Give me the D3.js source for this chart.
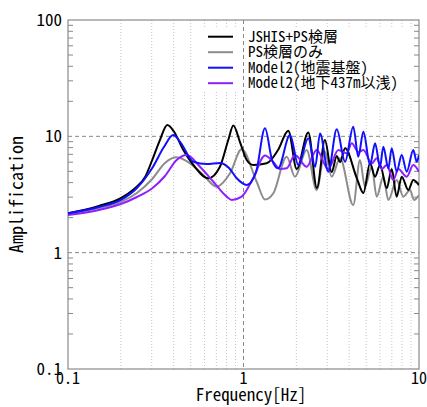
<!DOCTYPE html>
<html>
<head>
<meta charset="utf-8">
<script src="https://cdn.jsdelivr.net/npm/d3@7"></script>
<style>
  body { margin: 0; background: #fff; }
  svg text { font-family: "Noto Sans Mono CJK JP", "Liberation Mono", "Noto Sans CJK JP", monospace; fill: #000; }
</style>
</head>
<body>
<div id="plot"></div>
<script>
// [frequency Hz, amplification]
const jshisPs = [
  [0.1, 2.18], [0.15, 2.52], [0.2, 2.95], [0.238, 3.53], [0.275, 4.47], [0.302, 6.26],
  [0.334, 9.29], [0.368, 12.5], [0.402, 10.95], [0.454, 7.62], [0.518, 5.67], [0.63, 4.36],
  [0.734, 5.48], [0.819, 9.29], [0.875, 12.4], [0.955, 8.93], [1.043, 6.26], [1.137, 5.67],
  [1.356, 5.86], [1.573, 7.62], [1.8, 11.17], [2.01, 5.24], [2.34, 10.8], [2.62, 3.6],
  [2.91, 9.29], [3.18, 4.93], [3.4, 6.77], [3.55, 6.01], [3.79, 7.89], [4.42, 4.38],
  [4.82, 3.26], [5.26, 5.86], [5.62, 4.5], [6.0, 5.67], [6.55, 3.58], [6.99, 5.24],
  [7.46, 3.03], [7.97, 4.5], [8.69, 3.46], [9.28, 4.21], [10, 3.8]
];
const psOnly = [
  [0.1, 2.15], [0.15, 2.42], [0.2, 2.73], [0.247, 3.26], [0.302, 4.3], [0.357, 5.9],
  [0.416, 6.6], [0.496, 5.86], [0.59, 4.65], [0.704, 3.69], [0.838, 4.81], [0.976, 7.73],
  [1.189, 4.07], [1.326, 2.86], [1.479, 3.24], [1.763, 6.68], [1.965, 4.5], [2.29, 7.62],
  [2.61, 3.46], [2.91, 7.38], [3.18, 4.5], [3.55, 6.47], [4.22, 2.57], [4.61, 6.26],
  [4.92, 3.69], [5.38, 5.48], [5.74, 3.03], [6.26, 4.5], [6.69, 2.84], [7.46, 4.21],
  [8.14, 3.03], [8.89, 3.46], [9.37, 2.84], [10, 3.13]
];
const model2Base = [
  [0.1, 2.18], [0.15, 2.47], [0.2, 2.84], [0.247, 3.6], [0.302, 5.34], [0.352, 8.09],
  [0.398, 10.26], [0.44, 8.76], [0.518, 6.05], [0.617, 5.78], [0.734, 5.9], [0.827, 5.34],
  [0.915, 4.36], [1.043, 3.82], [1.179, 4.93], [1.326, 11.71], [1.454, 6.26], [1.573, 5.31],
  [1.841, 10.26], [2.053, 5.67], [2.34, 9.61], [2.56, 5.48], [2.73, 10.6], [3.04, 4.97],
  [3.4, 11.48], [3.79, 6.05], [4.22, 12.09], [4.51, 6.68], [4.82, 10.95], [5.26, 5.67],
  [5.62, 8.71], [6.0, 5.48], [6.26, 8.14], [6.69, 5.31], [6.99, 7.89], [7.46, 4.97],
  [7.97, 6.91], [8.51, 4.97], [9.28, 7.62], [9.7, 6.05], [10, 6.91]
];
const model2Shallow = [
  [0.1, 2.11], [0.15, 2.33], [0.2, 2.62], [0.247, 3.01], [0.302, 3.58], [0.357, 4.56],
  [0.416, 6.26], [0.475, 6.91], [0.565, 5.48], [0.673, 4.07], [0.802, 3.03], [0.857, 2.84],
  [0.976, 3.03], [1.137, 4.38], [1.326, 6.84], [1.479, 6.01], [1.614, 5.24], [1.763, 5.31],
  [1.965, 6.91], [2.29, 5.48], [2.61, 7.62], [3.04, 5.24], [3.47, 7.62], [3.87, 7.14],
  [4.14, 8.71], [4.51, 7.33], [4.82, 7.62], [5.38, 5.86], [5.74, 6.47], [6.13, 5.24],
  [6.55, 5.67], [7.14, 4.21], [7.62, 5.24], [8.51, 4.5], [9.28, 5.67], [10, 4.97]
];

const seriesNames = ["JSHIS+PS検層", "PS検層のみ", "Model2(地震基盤)", "Model2(地下437m以浅)"];
const seriesColors = ["#000000", "#8c8c8c", "#1010ff", "#8f1fff"];
const seriesData = [jshisPs, psOnly, model2Base, model2Shallow];

const xTicks = [0.1, 1, 10];
const yTicks = [0.1, 1, 10, 100];
const xTickLabels = ["0.1", "1", "10"];
const yTickLabels = ["0.1", "1", "10", "100"];

const W = 427, H = 407;
const pLeft = 68, pRight = 419, pTop = 20, pBottom = 369;

const svg = d3.select("#plot").append("svg")
  .attr("width", W).attr("height", H);

const x = d3.scaleLog().domain([0.1, 10]).range([pLeft, pRight]);
const y = d3.scaleLog().domain([0.1, 100]).range([pBottom, pTop]);

// minor values (2..9 of each decade)
const minorX = [], minorY = [];
[0.1, 1].forEach(d => { for (let k = 2; k <= 9; k++) minorX.push(d * k); });
[0.1, 1, 10].forEach(d => { for (let k = 2; k <= 9; k++) minorY.push(d * k); });

// dotted minor grid (vertical only)
svg.append("g").selectAll("line").data(minorX).join("line")
  .attr("x1", d => x(d)).attr("x2", d => x(d))
  .attr("y1", pTop).attr("y2", pBottom)
  .attr("stroke", "#c4c4c4").attr("stroke-width", 1)
  .attr("stroke-dasharray", "1,2");

// legend background hides the grid
const legend = svg.append("g");
legend.append("rect")
  .attr("x", 204).attr("y", 28).attr("width", 208).attr("height", 64)
  .attr("fill", "#fff");

// major dashed grid
svg.append("g").selectAll("line").data([1]).join("line")
  .attr("x1", d => x(d)).attr("x2", d => x(d))
  .attr("y1", pTop).attr("y2", pBottom)
  .attr("stroke", "#888").attr("stroke-dasharray", "4,3");
svg.append("g").selectAll("line").data([1, 10]).join("line")
  .attr("x1", pLeft).attr("x2", pRight)
  .attr("y1", d => y(d)).attr("y2", d => y(d))
  .attr("stroke", "#888").attr("stroke-dasharray", "4,3");

// minor ticks on y, inside both sides
svg.append("g").selectAll("line").data(minorY).join("line")
  .attr("x1", pLeft).attr("x2", pLeft + 5)
  .attr("y1", d => y(d)).attr("y2", d => y(d))
  .attr("stroke", "#888");
svg.append("g").selectAll("line").data(minorY).join("line")
  .attr("x1", pRight - 5).attr("x2", pRight)
  .attr("y1", d => y(d)).attr("y2", d => y(d))
  .attr("stroke", "#888");

// frame
svg.append("rect")
  .attr("x", pLeft).attr("y", pTop)
  .attr("width", pRight - pLeft).attr("height", pBottom - pTop)
  .attr("fill", "none").attr("stroke", "#8a8a8a").attr("stroke-width", 1.2);

svg.append("clipPath").attr("id", "clip")
  .append("rect").attr("x", pLeft).attr("y", pTop)
  .attr("width", pRight - pLeft).attr("height", pBottom - pTop);

const line = d3.line()
  .x(d => x(d[0])).y(d => y(d[1]))
  .curve(d3.curveMonotoneX);

// draw back to front like the original
const order = [1, 0, 3, 2];
svg.append("g").attr("clip-path", "url(#clip)")
  .selectAll("path").data(order).join("path")
  .attr("d", i => line(seriesData[i]))
  .attr("fill", "none")
  .attr("stroke", i => seriesColors[i])
  .attr("stroke-width", 2)
  .attr("stroke-linejoin", "round");

// tick labels
svg.append("g").selectAll("text").data(yTicks).join("text")
  .attr("x", pLeft - 6).attr("y", d => y(d) + 6)
  .attr("text-anchor", "end").attr("font-size", 17)
  .text((d, i) => yTickLabels[i]);
svg.append("g").selectAll("text").data(xTicks).join("text")
  .attr("x", d => x(d)).attr("y", 384)
  .attr("text-anchor", "middle").attr("font-size", 16)
  .text((d, i) => xTickLabels[i]);

svg.append("text")
  .attr("x", 251).attr("y", 401)
  .attr("text-anchor", "middle").attr("font-size", 17)
  .text("Frequency[Hz]");
svg.append("text")
  .attr("transform", "translate(23," + ((pTop + pBottom) / 2) + ") rotate(-90)")
  .attr("text-anchor", "middle").attr("font-size", 18)
  .text("Amplification");

// legend
const rowY = [36.7, 52.2, 67.7, 83.2];
seriesNames.forEach((name, i) => {
  legend.append("line")
    .attr("x1", 208).attr("x2", 233)
    .attr("y1", rowY[i]).attr("y2", rowY[i])
    .attr("stroke", seriesColors[i]).attr("stroke-width", 2);
  legend.append("text")
    .attr("x", 248).attr("y", rowY[i] + 5)
    .attr("font-size", 15)
    .text(name);
});
</script>
</body>
</html>
